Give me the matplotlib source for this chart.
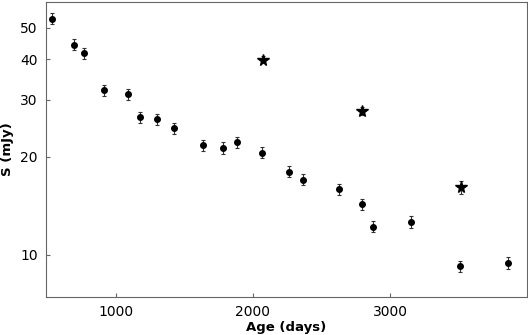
import matplotlib
matplotlib.use("Agg")
import matplotlib.pyplot as plt
from matplotlib.ticker import FixedLocator, NullLocator, FixedFormatter

age = [533, 693, 768, 912, 1090, 1173, 1299, 1426, 1635, 1783, 1886, 2063,
       2263, 2368, 2628, 2796, 2878, 3155, 3511, 3859]
flux = [53.3, 44.3, 41.7, 32.1, 31.2, 26.5, 26.1, 24.5, 21.7, 21.3, 22.2, 20.6,
        18.0, 17.0, 15.9, 14.3, 12.2, 12.6, 9.2, 9.45]
flux_err = [2.0, 1.7, 1.6, 1.3, 1.2, 1.0, 1.0, 0.95, 0.85, 0.85, 0.85, 0.8,
            0.7, 0.65, 0.62, 0.56, 0.5, 0.5, 0.38, 0.4]

star_age = [2070, 2793, 3520]
star_flux = [39.9, 27.7, 16.1]
star_err = [1.0, 0.8, 0.75]

yticks = [10, 20, 30, 40, 50]
xticks = [1000, 2000, 3000]

fig = plt.figure(figsize=(5.28, 3.35), dpi=100)
ax = fig.add_axes([46/528, 1-297/335, 481/528, 295/335])
ax.set_yscale('log')
ax.errorbar(age, flux, yerr=flux_err, fmt='o', color='black', ms=4,
            ecolor='#333333', elinewidth=0.8, capsize=1.5, capthick=0.8)
ax.errorbar(star_age, star_flux, yerr=star_err, fmt='*', color='black', ms=8.5,
            ecolor='#333333', elinewidth=0.8, capsize=1.5, capthick=0.8)
ax.set_xlim(490, 4000)
ax.set_ylim(7.4, 60)
ax.yaxis.set_major_locator(FixedLocator(yticks))
ax.yaxis.set_major_formatter(FixedFormatter([str(t) for t in yticks]))
ax.yaxis.set_minor_locator(NullLocator())
ax.xaxis.set_major_locator(FixedLocator(xticks))
for s in ax.spines.values():
    s.set_color('#666666')
ax.tick_params(direction='in', length=3, color='#666666', labelsize=10, pad=6)
ax.set_xlabel('Age (days)', fontsize=9.5, fontweight='bold', labelpad=1)
ax.set_ylabel('S (mJy)', fontsize=9.5, fontweight='bold', labelpad=4)
fig.savefig('out.png', dpi=100)
